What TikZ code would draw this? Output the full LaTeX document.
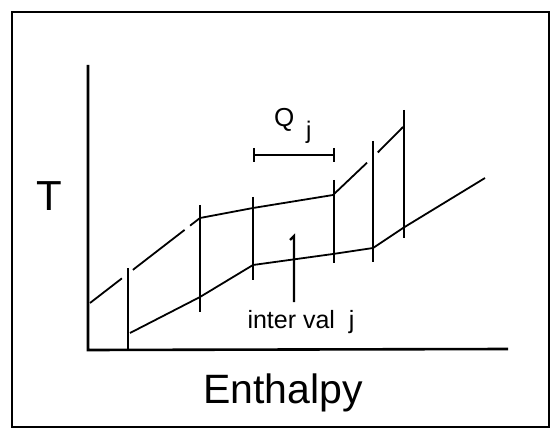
\documentclass[tikz,border=0pt]{standalone}
\usepackage{fontspec}
\setmainfont{Liberation Sans}
\usetikzlibrary{calc}
\tikzset{
  frame/.style={line width=1.8pt},
  axis/.style={line width=2.6pt},
  bar/.style={line width=2.6pt},
  curve/.style={line width=1.8pt},
  thinbar/.style={line width=2.2pt},
  lbl/.style={inner sep=0pt, anchor=base}
}
\begin{document}
\begin{tikzpicture}[x=1pt,y=-1pt]
\useasboundingbox (0,0) rectangle (551,430);
% frame
\draw[frame] (12,12) rectangle (549,427);
% axes
\coordinate (O) at (88,350);
\coordinate (ytop) at (88,65);
\coordinate (xend) at (508,349);
\draw[axis] (ytop) -- (O) -- (xend);
% hot stream (upper)
\coordinate (U0) at (90,303);
\coordinate (U1) at (200,218);
\coordinate (U2) at (253,208);
\coordinate (U3) at (333,195);
\coordinate (U4) at (373,157);
\coordinate (U5) at (403,127);
\draw[curve] (U0) -- ($(U0)!0.29!(U1)$);
\draw[curve] ($(U0)!0.39!(U1)$) -- ($(U0)!0.86!(U1)$);
\draw[curve] ($(U0)!0.91!(U1)$) -- (U1) -- (U2) -- (U3) -- ($(U3)!0.85!(U4)$);
\draw[curve] ($(U3)!1.12!(U4)$) -- (U5);
% cold stream (lower)
\coordinate (L0) at (130,333);
\coordinate (L1) at (200,297);
\coordinate (L2) at (253,265);
\coordinate (L3) at (333,254);
\coordinate (L4) at (373,248);
\coordinate (L5) at (403,228);
\coordinate (L6) at (485,178);
\draw[curve] (L0) -- (L1) -- (L2) -- (L3) -- (L4) -- (L5) -- (L6);
% interval bars
\draw[bar] (128,268) -- (128,350);
\draw[bar] (200,205) -- (200,312);
\draw[bar] (253,197) -- (253,280);
\draw[bar] (334,180) -- (334,263);
\draw[bar] (373,141) -- (373,262);
\draw[bar] (404,110) -- (404,238);
% interval j marker
\coordinate (Mtop) at (294,236);
\coordinate (Mbot) at (294,302);
\draw[thinbar] (290,240) -- (Mtop) -- (Mbot);
% Q_j bracket
\coordinate (Qa) at (254,155);
\coordinate (Qb) at (334,155);
\draw[line width=1.8pt] (Qa) -- (Qb);
\draw[line width=2.4pt] (254,148) -- (254,162);
\draw[line width=2.4pt] (334,148) -- (334,162);
% labels
\node[lbl, font=\fontsize{26}{26}\selectfont, anchor=base west] (Q) at (274,127) {Q};
\node[lbl, font=\fontsize{24}{24}\selectfont, anchor=base west] (j) at (306,139) {j};
\node[lbl, font=\fontsize{42}{42}\selectfont] (T) at (49,211) {T};
\node[lbl, font=\fontsize{25}{25}\selectfont] (iv) at (301,328) {inter val\ \ j};
\node[lbl, font=\fontsize{41}{41}\selectfont] (H) at (283,403) {Enthalpy};
\end{tikzpicture}
\end{document}
